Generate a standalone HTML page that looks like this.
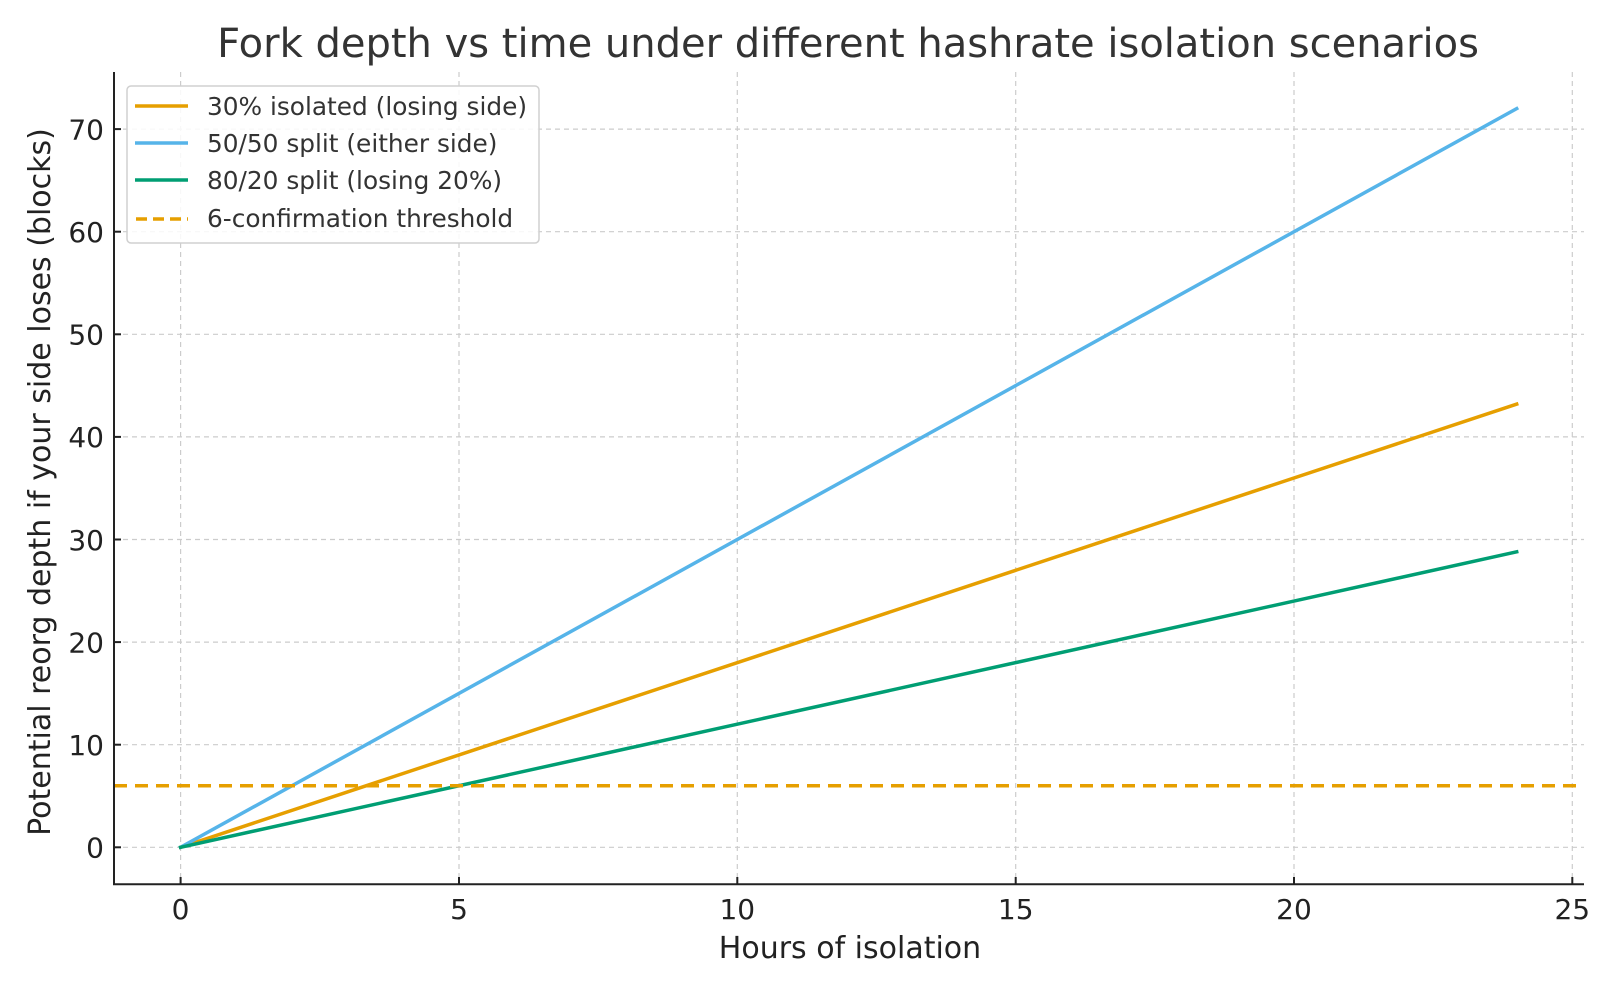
<!DOCTYPE html>
<html><head><meta charset="utf-8"><style>
html,body{margin:0;padding:0;background:#fff;}
svg{display:block;font-family:"DejaVu Sans","Liberation Sans",sans-serif;}
</style></head><body>
<svg width="1620" height="990" viewBox="0 0 1620 990" xmlns="http://www.w3.org/2000/svg">
<rect width="1620" height="990" fill="#fff"/>
<text x="848" y="57" font-size="40" fill="#333" text-anchor="middle">Fork depth vs time under different hashrate isolation scenarios</text>
<g stroke="#cccccc" stroke-width="1.2" stroke-dasharray="5,4">
<line x1="180.6" y1="72" x2="180.6" y2="884"/>
<line x1="459" y1="72" x2="459" y2="884"/>
<line x1="737.3" y1="72" x2="737.3" y2="884"/>
<line x1="1015.7" y1="72" x2="1015.7" y2="884"/>
<line x1="1294" y1="72" x2="1294" y2="884"/>
<line x1="1572.3" y1="72" x2="1572.3" y2="884"/>
<line x1="114" y1="847.3" x2="1584" y2="847.3"/>
<line x1="114" y1="744.7" x2="1584" y2="744.7"/>
<line x1="114" y1="642.1" x2="1584" y2="642.1"/>
<line x1="114" y1="539.5" x2="1584" y2="539.5"/>
<line x1="114" y1="436.9" x2="1584" y2="436.9"/>
<line x1="114" y1="334.3" x2="1584" y2="334.3"/>
<line x1="114" y1="231.7" x2="1584" y2="231.7"/>
<line x1="114" y1="129.1" x2="1584" y2="129.1"/>
</g>
<g stroke-width="3.5" fill="none" stroke-linecap="square">
<line x1="180.6" y1="847.3" x2="1516.7" y2="404.1" stroke="#E69F00"/>
<line x1="180.6" y1="847.3" x2="1516.7" y2="108.6" stroke="#56B4E9"/>
<line x1="180.6" y1="847.3" x2="1516.7" y2="551.8" stroke="#009E73"/>
<line x1="114" y1="785.7" x2="1584" y2="785.7" stroke="#E69F00" stroke-dasharray="13,8" stroke-linecap="butt"/>
</g>
<g stroke="#222" stroke-width="2">
<line x1="114" y1="72" x2="114" y2="885"/>
<line x1="113" y1="884.3" x2="1584" y2="884.3"/>
<line x1="180.6" y1="884" x2="180.6" y2="877"/>
<line x1="459" y1="884" x2="459" y2="877"/>
<line x1="737.3" y1="884" x2="737.3" y2="877"/>
<line x1="1015.7" y1="884" x2="1015.7" y2="877"/>
<line x1="1294" y1="884" x2="1294" y2="877"/>
<line x1="1572.3" y1="884" x2="1572.3" y2="877"/>
<line x1="114" y1="847.3" x2="121" y2="847.3"/>
<line x1="114" y1="744.7" x2="121" y2="744.7"/>
<line x1="114" y1="642.1" x2="121" y2="642.1"/>
<line x1="114" y1="539.5" x2="121" y2="539.5"/>
<line x1="114" y1="436.9" x2="121" y2="436.9"/>
<line x1="114" y1="334.3" x2="121" y2="334.3"/>
<line x1="114" y1="231.7" x2="121" y2="231.7"/>
<line x1="114" y1="129.1" x2="121" y2="129.1"/>
</g>
<g font-size="28" fill="#222" text-anchor="middle">
<text x="180.6" y="919">0</text>
<text x="459" y="919">5</text>
<text x="737.3" y="919">10</text>
<text x="1015.7" y="919">15</text>
<text x="1294" y="919">20</text>
<text x="1572.3" y="919">25</text>
</g>
<g font-size="28" fill="#222" text-anchor="end">
<text x="104" y="857.5">0</text>
<text x="104" y="755">10</text>
<text x="104" y="652.5">20</text>
<text x="104" y="550">30</text>
<text x="104" y="447">40</text>
<text x="104" y="344.5">50</text>
<text x="104" y="242">60</text>
<text x="104" y="139.5">70</text>
</g>
<text x="850" y="958" font-size="30" fill="#222" text-anchor="middle">Hours of isolation</text>
<text transform="translate(50,482) rotate(-90)" font-size="30" fill="#222" text-anchor="middle">Potential reorg depth if your side loses (blocks)</text>
<rect x="127" y="86" width="412" height="157" rx="4" fill="#fff" fill-opacity="0.85" stroke="#d0d0d0" stroke-width="1.5"/>
<g stroke-width="3.5">
<line x1="135" y1="106" x2="188" y2="106" stroke="#E69F00"/>
<line x1="135" y1="143" x2="188" y2="143" stroke="#56B4E9"/>
<line x1="135" y1="180" x2="188" y2="180" stroke="#009E73"/>
<line x1="136" y1="219" x2="188" y2="219" stroke="#E69F00" stroke-dasharray="11,6"/>
</g>
<g font-size="24.8" fill="#333">
<text x="207" y="115">30% isolated (losing side)</text>
<text x="207" y="152">50/50 split (either side)</text>
<text x="207" y="189">80/20 split (losing 20%)</text>
<text x="207" y="227">6-confirmation threshold</text>
</g>
</svg>
</body></html>
